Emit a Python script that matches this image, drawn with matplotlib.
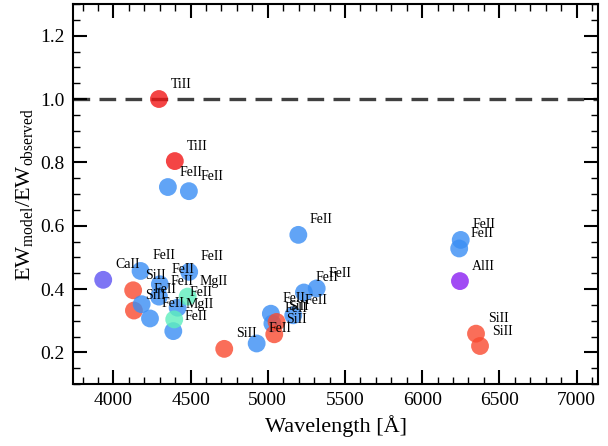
import matplotlib
matplotlib.use("Agg")
import matplotlib.pyplot as plt
from matplotlib.ticker import MultipleLocator

import numpy as np

# Measured lines: ion, wavelength (A), EW ratio model/observed
ions = ['TiII', 'TiII', 'FeII', 'FeII', 'CaII', 'FeII', 'SiII', 'SiII',
        'FeII', 'FeII', 'FeII', 'FeII', 'FeII', 'FeII', 'FeII',
        'MgII', 'MgII', 'SiII', 'FeII', 'FeII', 'FeII', 'FeII',
        'FeII', 'FeII', 'FeII', 'SiII', 'SiII', 'FeII', 'FeII',
        'AlII', 'SiII', 'SiII']
wavelength = [4295, 4398, 4353, 4489, 3934, 4176, 4128, 4133,
              4183, 4237, 4301, 4295, 4491, 4416, 4388,
              4481, 4394, 4718, 4928, 5198, 5317, 5234,
              5020, 5165, 5030, 5057, 5042, 6250, 6240,
              6245, 6349, 6375]
ew_ratio = [1.000, 0.804, 0.722, 0.709, 0.429, 0.457, 0.396, 0.332,
            0.352, 0.307, 0.415, 0.376, 0.454, 0.341, 0.267,
            0.376, 0.304, 0.211, 0.228, 0.571, 0.402, 0.389,
            0.322, 0.317, 0.291, 0.296, 0.257, 0.555, 0.528,
            0.425, 0.259, 0.220]

ion_colors = {'FeII': '#3a8ef4',
              'SiII': '#f94a30',
              'TiII': '#f21616',
              'CaII': '#5e52f2',
              'AlII': '#8a1ef2',
              'MgII': '#5eeebd'}

plt.rcParams['font.family'] = ['Liberation Serif', 'DejaVu Serif']
plt.rcParams['mathtext.fontset'] = 'custom'
plt.rcParams['mathtext.rm'] = 'Liberation Serif'
plt.rcParams['mathtext.it'] = 'Liberation Serif:italic'

fig = plt.figure(figsize=(6.08, 4.46), dpi=100)
ax = fig.add_axes([0.12, 0.139, 0.864, 0.852])

# Reference line
ax.axhline(1.0, color='#404040', linestyle='--', linewidth=2.4, dashes=(5, 2.8), zorder=1)

# Points and labels
for name, wl, ratio in zip(ions, wavelength, ew_ratio):
    ax.scatter(wl, ratio, s=165, color=ion_colors[name], alpha=0.8,
               edgecolors='none', zorder=2)
    ax.annotate(name, (wl, ratio), xytext=(8.4, 10.8), textcoords='offset points',
                ha='left', va='center', fontsize=10, zorder=3)

ax.set_xlim(3738, 7141)
ax.set_ylim(0.1, 1.3)

ax.xaxis.set_major_locator(MultipleLocator(500))
ax.xaxis.set_minor_locator(MultipleLocator(100))
ax.yaxis.set_major_locator(MultipleLocator(0.2))
ax.yaxis.set_minor_locator(MultipleLocator(0.05))
ax.tick_params(which='both', direction='in', top=True, right=True)
ax.tick_params(which='major', length=10, width=1.5, labelsize=14, pad=6)
ax.tick_params(which='minor', length=5, width=1.0)
for spine in ax.spines.values():
    spine.set_linewidth(1.5)

ax.set_xlabel(u'Wavelength [\u00c5]', fontsize=16)
ax.set_ylabel(r'EW$_{\rm model}$/EW$_{\rm observed}$', fontsize=16)

fig.savefig('out.png', dpi=100)
